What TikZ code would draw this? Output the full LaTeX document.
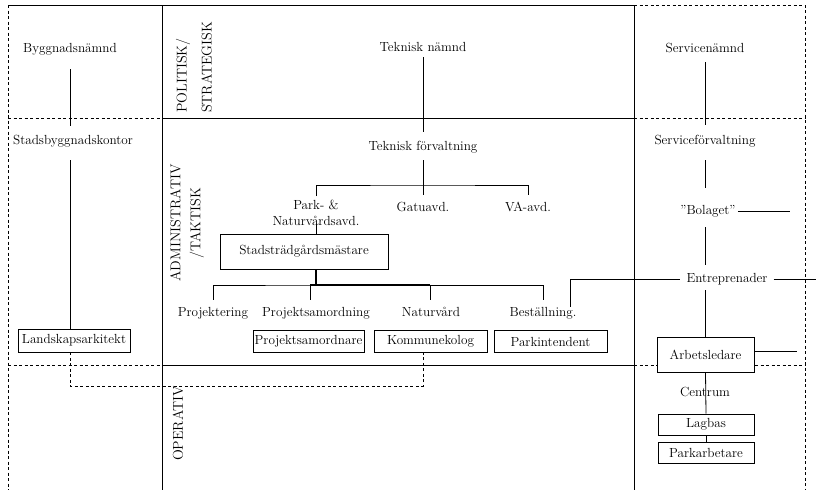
\documentclass[tikz,border=0pt]{standalone}
\usetikzlibrary{calc}
\begin{document}
\begin{tikzpicture}[x=1pt,y=-1pt,
  every node/.style={font=\fontsize{13.2}{15}\selectfont},
  lbl/.style={inner sep=0pt, text height=9pt, text depth=3pt},
  box/.style={draw, line width=0.8pt, fill=white, inner sep=0pt, minimum height=22pt},
  ln/.style={line width=0.8pt},
  dsh/.style={line width=0.8pt, dash pattern=on 3pt off 2.5pt},
  thk/.style={line width=1.8pt},
  lvl/.style={rotate=90, inner sep=0pt}
]
\useasboundingbox (0,0) rectangle (816,490);

% frame: three columns, three levels
\draw[ln] (8,5) -- (634,5);
\draw[dsh] (634,5) -- (805,5) -- (805,490);
\draw[dsh] (8,5) -- (8,490);
\draw[ln] (162,5) -- (162,490);
\draw[ln] (634,5) -- (634,490);
\draw[dsh] (8,118) -- (162,118);
\draw[ln] (162,118) -- (634,118);
\draw[dsh] (634,118) -- (805,118);
\draw[dsh] (8,365) -- (162,365);
\draw[ln] (162,365) -- (634,365);
\draw[dsh] (634,365) -- (805,365);

% level labels
\node[lvl, anchor=west, align=left, font=\fontsize{14.2}{25}\selectfont] (pol) at (194,113) {POLITISK/\\STRATEGISK};
\node[lvl, align=center, font=\fontsize{14.2}{20}\selectfont] (adm) at (187,223) {ADMINISTRATIV\\/TAKTISK};
\node[lvl, anchor=east, font=\fontsize{14.2}{17}\selectfont] (op) at (178,386) {OPERATIV};

% left column
\node[lbl] (byg) at (70,49) {Byggnadsnämnd};
\node[lbl] (sbk) at (73,141) {Stadsbyggnadskontor};
\node[box, minimum width=112pt, minimum height=23pt] (land) at (74,340.5) {Landskapsarkitekt};
\draw[ln] ($(byg.south)+(0,14)$) -- ($(byg.south |- sbk.north)+(0,-9)$);
\draw[ln] ($(byg.south |- sbk.south)+(0,13)$) -- (byg.south |- land.north);

% middle column
\node[lbl] (tn) at (423,48) {Teknisk nämnd};
\node[lbl] (tf) at (423,147) {Teknisk förvaltning};
\draw[ln] ($(tn.south)+(0,3)$) -- ($(tf.north)+(0,-9)$);
\coordinate (tbar) at (423,185);
\draw[ln] ($(tf.south)+(0,7)$) -- (tbar);
\node[inner sep=0pt, align=center, font=\fontsize{13.2}{16}\selectfont] (park) at (316,213) {Park- \&\\Naturvårdsavd.};
\node[lbl] (gata) at (423,208) {Gatuavd.};
\node[lbl] (va) at (528,208) {VA-avd.};
\draw[ln] ($(park.north)+(0,-4)$) |- (tbar) -| ($(va.north)+(0,-7)$);
\draw[ln] (tbar) -- ($(gata.north)+(0,-7)$);

\node[box, minimum width=168pt, minimum height=35pt] (stm) at (304,251.5) {Stadsträdgårdsmästare};
\draw[ln] ($(park.south)+(0,-2)$) -- (park.south |- stm.north);

\coordinate (sbar) at (316,285);
\node[lbl] (proj) at (213,313) {Projektering};
\node[lbl] (psam) at (316,313) {Projektsamordning};
\node[lbl] (nat) at (431,313) {Naturvård};
\node[lbl] (best) at (543,313) {Beställning.};
\draw[ln] ($(proj.north)+(0,-7)$) |- (sbar) -| ($(best.north)+(0,-7)$);
\draw[ln] ($(psam.north)+(-6,-7)$) -- +(0,-15);
\draw[ln] ($(nat.north)+(-1,-7)$) -- +(0,-15);
\draw[thk] ($(psam.north)+(-6,-22)$) -- ($(nat.north)+(-1,-22)$);
\draw[thk] (park.south |- stm.south) -- (sbar);

\node[box, minimum width=111pt] (psamb) at (308.5,341.5) {Projektsamordnare};
\node[box, minimum width=113pt] (kom) at (430.5,341.5) {Kommunekolog};
\node[box, minimum width=113pt] (parki) at (550.5,341.5) {Parkintendent};

\coordinate (opbend) at (0,386);
\draw[dsh] (byg.south |- land.south) -- (byg.south |- opbend) -| ($(kom.south)+(-7.5,0)$);

% right column
\node[lbl] (sn) at (705,49) {Servicenämnd};
\node[lbl] (sf) at (705,141) {Serviceförvaltning};
\draw[ln] ($(sn.south)+(0,7)$) -- ($(sf.north)+(0,-10)$);
\node[lbl] (bol) at (708,211) {''Bolaget''};
\draw[ln] ($(sf.south)+(0,13)$) -- ($(sf.south |- bol.north)+(0,-17)$);
\coordinate (bolR) at (790,211);
\draw[ln] ($(bol.east)+(2,0)$) -- (bolR);
\node[lbl] (ent) at (727,279) {Entreprenader};
\draw[ln] ($(sf.south |- bol.south)+(0,10)$) -- ($(sf.south |- ent.north)+(0,-8)$);
\coordinate (entR) at (816,279);
\draw[ln] ($(ent.east)+(6,0)$) -- (entR);
\draw[ln] ($(best.north)+(27,0)$) |- ($(ent.west)+(-6,0)$);

\node[box, minimum width=97pt, minimum height=35pt] (arb) at (705.5,354.5) {Arbetsledare};
\draw[ln] ($(sf.south |- ent.south)+(0,5)$) -- (sf.south |- arb.north);
\coordinate (arbR) at (797,351);
\draw[ln] (arb.east |- arbR) -- (arbR);

\node[lbl] (cen) at (705,393) {Centrum};
\node[box, minimum width=96pt, minimum height=21pt] (lag) at (706,424.5) {Lagbas};
\node[box, minimum width=96pt, minimum height=21pt] (parka) at (706,452.5) {Parkarbetare};
\draw[ln] (arb.south) -- (lag.north);
\draw[ln] (lag.south) -- (parka.north);
\end{tikzpicture}
\end{document}
